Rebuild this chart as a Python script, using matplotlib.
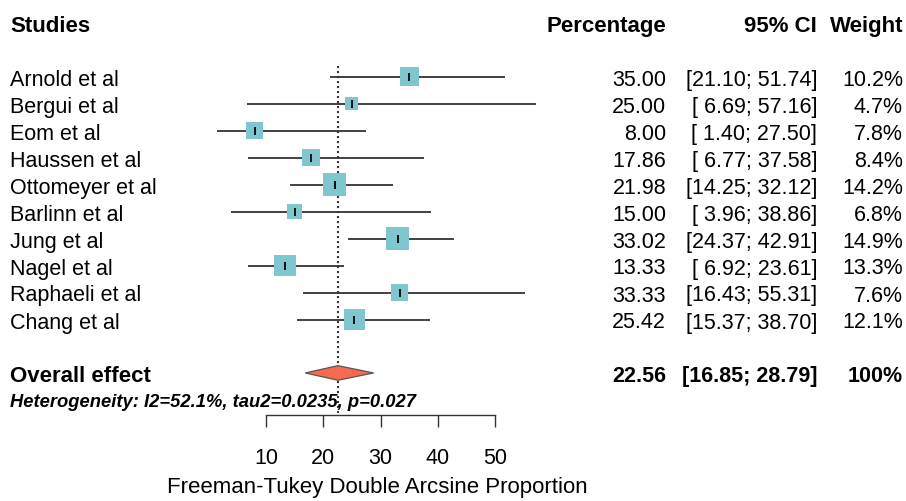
import matplotlib
matplotlib.use("Agg")
import matplotlib.pyplot as plt
import matplotlib.transforms as mtransforms
from matplotlib.patches import Polygon

plt.rcParams["font.family"] = ["Liberation Sans", "DejaVu Sans"]

# ---- data -------------------------------------------------------------
studies = ["Arnold et al", "Bergui et al", "Eom et al", "Haussen et al",
           "Ottomeyer et al", "Barlinn et al", "Jung et al", "Nagel et al",
           "Raphaeli et al", "Chang et al"]
estimate = [35.00, 25.00, 8.00, 17.86, 21.98, 15.00, 33.02, 13.33, 33.33, 25.42]
ci_low = [21.10, 6.69, 1.40, 6.77, 14.25, 3.96, 24.37, 6.92, 16.43, 15.37]
ci_high = [51.74, 57.16, 27.50, 37.58, 32.12, 38.86, 42.91, 23.61, 55.31, 38.70]
weight = [10.2, 4.7, 7.8, 8.4, 14.2, 6.8, 14.9, 13.3, 7.6, 12.1]

overall_est = 22.56
overall_low = 16.85
overall_high = 28.79
overall_weight = 100

heterogeneity = "Heterogeneity: I2=52.1%, tau2=0.0235, p=0.027"
x_ticks = [10, 20, 30, 40, 50]
x_label = "Freeman-Tukey Double Arcsine Proportion"

# ---- figure -------------------------------------------------------------
W, H, DPI = 906, 502, 100
fig = plt.figure(figsize=(W / DPI, H / DPI), dpi=DPI)
ax = fig.add_axes([0, 0, 1, 1])

# horizontal scale: percentage units, vertical: one unit per row
x0_px, px_per_unit = 208.75, 5.725
ax.set_xlim(-x0_px / px_per_unit, (W - x0_px) / px_per_unit)
row0_px, row_px = 77.5, 27.0
ax.set_ylim((H - row0_px) / row_px, -row0_px / row_px)

rows = list(range(len(studies)))
overall_row = len(studies) + 0.98
header_row = -1.98
het_row = overall_row + 0.98
axis_row = overall_row + 1.55

line_col = "#333333"
box_col = "#7FC6CE"
diamond_col = "#F76A4F"

# reference line at the pooled estimate
ax.vlines(overall_est, -0.4, axis_row - 0.08, colors=line_col,
          linestyles=(0, (1, 1.4)), linewidth=1.5, zorder=1)

# confidence intervals
ax.hlines(rows, ci_low, ci_high, colors=line_col, linewidth=1.3, zorder=2)

# weight boxes (area proportional to weight)
sizes = [18.35 * w for w in weight]
ax.scatter(estimate, rows, s=sizes, marker="s", color=box_col,
           linewidths=0, zorder=3)
ax.scatter(estimate, rows, s=40, marker="|", color="black",
           linewidths=1.3, zorder=4)

# pooled diamond
h = 0.27
diamond = Polygon([(overall_low, overall_row), (overall_est, overall_row - h),
                   (overall_high, overall_row), (overall_est, overall_row + h)],
                  closed=True, facecolor=diamond_col, edgecolor="#555555",
                  linewidth=0.9, zorder=3)
ax.add_patch(diamond)

# x axis drawn on the bottom spine
for side in ("top", "right", "left"):
    ax.spines[side].set_visible(False)
ax.spines["bottom"].set_position(("data", axis_row))
ax.spines["bottom"].set_bounds(x_ticks[0], x_ticks[-1])
ax.spines["bottom"].set_color(line_col)
ax.spines["bottom"].set_linewidth(1.0)
ax.set_xticks(x_ticks)
ax.set_xticklabels([str(t) for t in x_ticks])
ax.tick_params(axis="x", direction="out", length=8.9, width=1.0,
               color=line_col, pad=14, labelsize=15.5)
ax.set_yticks([])

ax.text(29.4, overall_row + 4.2, x_label,
        ha="center", va="center", fontsize=16)

# ---- text columns -------------------------------------------------------
tr = mtransforms.blended_transform_factory(fig.transFigure, ax.transData)
x_lab = 10 / W
x_pct = 666 / W
x_ci = 817 / W
x_w = 903 / W
fs = 15.5
fs_head = 16

for x, label, ha in [(x_lab, "Studies", "left"), (x_pct, "Percentage", "right"),
                     (x_ci, "95% CI", "right"), (x_w, "Weight", "right")]:
    ax.text(x, header_row, label, transform=tr, ha=ha, va="center_baseline",
            fontsize=fs_head, fontweight="bold")

for r, name, e, lo, hi, w in zip(rows, studies, estimate, ci_low, ci_high, weight):
    ax.text(x_lab, r, name, transform=tr, ha="left", va="center_baseline",
            fontsize=fs)
    ax.text(x_pct, r, f"{e:.2f}", transform=tr, ha="right",
            va="center_baseline", fontsize=fs)
    ax.text(x_ci, r, f"[{lo:5.2f}; {hi:5.2f}]", transform=tr, ha="right",
            va="center_baseline", fontsize=fs)
    ax.text(x_w, r, f"{w:.1f}%", transform=tr, ha="right",
            va="center_baseline", fontsize=fs)

ax.text(x_lab, overall_row, "Overall effect", transform=tr, ha="left",
        va="center_baseline", fontsize=fs_head, fontweight="bold")
ax.text(x_pct, overall_row, f"{overall_est:.2f}", transform=tr, ha="right",
        va="center_baseline", fontsize=fs, fontweight="bold")
ax.text(x_ci, overall_row, f"[{overall_low:.2f}; {overall_high:.2f}]",
        transform=tr, ha="right", va="center_baseline", fontsize=fs,
        fontweight="bold")
ax.text(x_w, overall_row, f"{overall_weight}%", transform=tr, ha="right",
        va="center_baseline", fontsize=fs, fontweight="bold")
ax.text(x_lab, het_row, heterogeneity, transform=tr, ha="left",
        va="center_baseline", fontsize=13.2, fontweight="bold",
        fontstyle="italic")

fig.savefig("out.png", dpi=DPI)
